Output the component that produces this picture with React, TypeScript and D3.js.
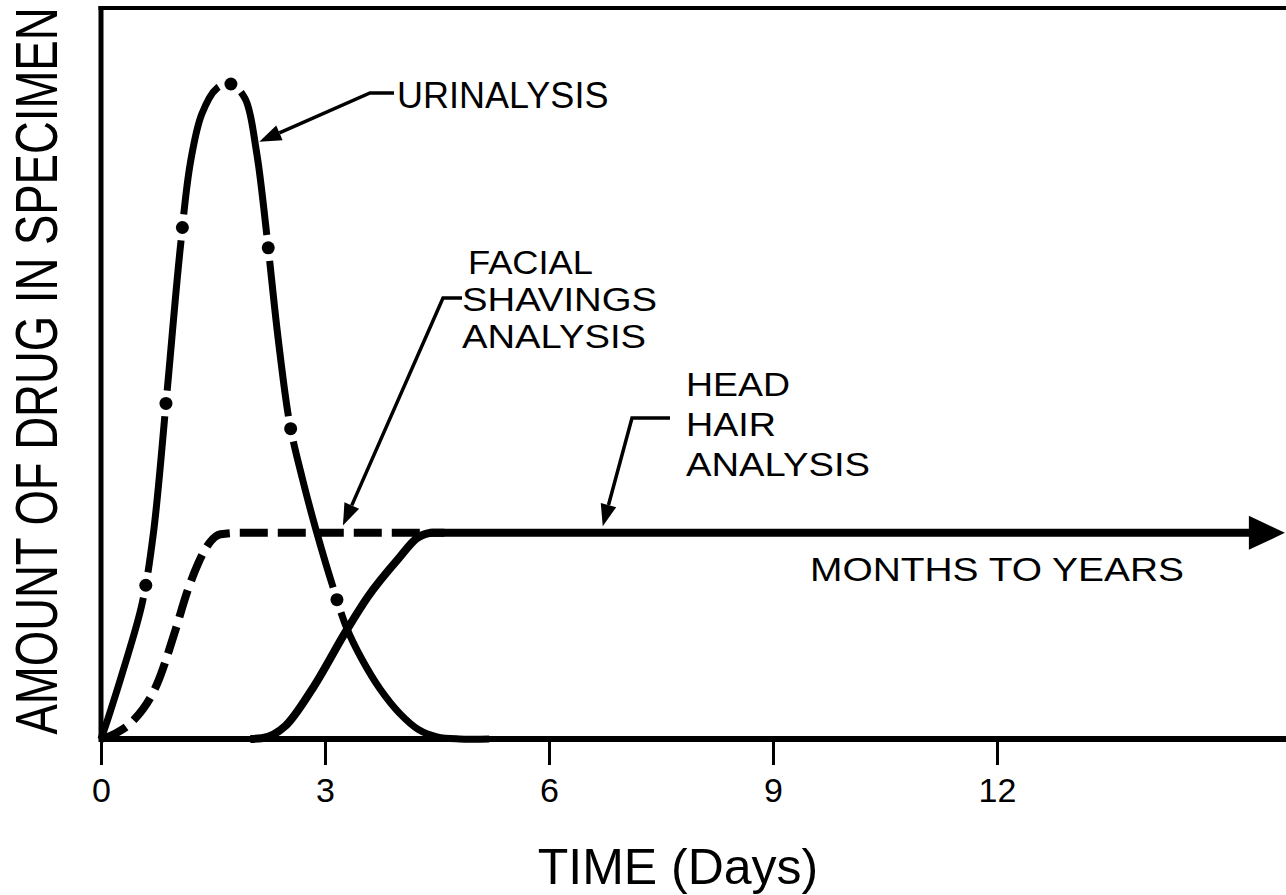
import { useEffect, useRef } from "react"
import * as d3 from "d3"

const xTicks = [0, 3, 6, 9, 12]

// [day, relative amount]
const urinalysis: [number, number][] = [
  [0, 0], [0.1, 3], [0.3, 9.5], [0.55, 18.5], [0.7, 28], [0.88, 47], [1.06, 67],
  [1.2, 79], [1.35, 85.5], [1.55, 89], [1.74, 89.6], [1.93, 87.6], [2.08, 80.5],
  [2.22, 69], [2.37, 55], [2.53, 43], [2.7, 35.5], [2.88, 28.6], [3.11, 20.7],
  [3.29, 15.2], [3.5, 10.8], [3.74, 6.8], [4.0, 3.5], [4.25, 1.3], [4.5, 0.3],
  [4.8, 0], [5.2, 0],
]
const urinalysisDots = [0.6, 0.87, 1.09, 1.74, 2.24, 2.54, 3.16]

const facialShavings: [number, number][] = [
  [0, 0], [0.2, 0.8], [0.43, 2.5], [0.75, 7.5], [1.0, 15], [1.15, 20], [1.3, 24],
  [1.45, 26.8], [1.6, 28], [1.85, 28.2], [4.6, 28.2],
]

const headHair: [number, number][] = [
  [2.0, 0], [2.15, 0.1], [2.47, 1.8], [2.82, 6.7], [3.29, 14.9], [3.57, 19.4],
  [3.97, 24.5], [4.25, 27.6], [4.45, 28.2], [15.4, 28.2],
]

// where the annotation arrows point, [day, amount]
const urinalysisPointer: [number, number] = [2.12, 81.7]
const facialPointer: [number, number] = [3.24, 29.2]
const headPointer: [number, number] = [6.72, 29.1]

export default function App() {
  const svgRef = useRef<SVGSVGElement>(null)

  useEffect(() => {
    if (!svgRef.current) return
    const svg = d3.select(svgRef.current)
    svg.selectAll("*").remove()

    const width = 1286
    const height = 895
    const font = "'Liberation Sans', Arial, Helvetica, sans-serif"

    const x = d3.scaleLinear().domain([0, 12]).range([101, 997])
    const y = d3.scaleLinear().domain([0, 100]).range([739, 8])

    svg.append("rect").attr("width", width).attr("height", height).attr("fill", "#fff")

    // frame
    svg.append("line")
      .attr("x1", x(0)).attr("x2", x(0)).attr("y1", y(100) - 2).attr("y2", y(0))
      .attr("stroke", "#000").attr("stroke-width", 5)
    svg.append("line")
      .attr("x1", x(0) - 2.5).attr("x2", width).attr("y1", y(100)).attr("y2", y(100))
      .attr("stroke", "#000").attr("stroke-width", 4)

    // x axis
    const axis = svg.append("g")
      .attr("transform", `translate(0,${y(0)})`)
      .call(d3.axisBottom(x).tickValues(xTicks).tickSize(26).tickPadding(13).tickSizeOuter(0))
    axis.select(".domain").remove()
    axis.selectAll(".tick line").attr("stroke", "#000").attr("stroke-width", 3)
    axis.selectAll(".tick text")
      .attr("fill", "#000")
      .style("font-family", font)
      .style("font-size", "34px")
    svg.append("line")
      .attr("x1", x(0) - 2.5).attr("x2", width).attr("y1", y(0)).attr("y2", y(0))
      .attr("stroke", "#000").attr("stroke-width", 6)

    const smooth = d3.line<[number, number]>()
      .x((d) => x(d[0]))
      .y((d) => y(d[1]))
      .curve(d3.curveCatmullRom.alpha(0.5))
    const monotone = d3.line<[number, number]>()
      .x((d) => x(d[0]))
      .y((d) => y(d[1]))
      .curve(d3.curveMonotoneX)

    // facial shavings (dashed)
    svg.append("path")
      .datum(facialShavings)
      .attr("d", monotone)
      .attr("fill", "none")
      .attr("stroke", "#000")
      .attr("stroke-width", 8)
      .attr("stroke-dasharray", "28 10")

    // head hair (solid) + arrow to "months to years"
    svg.append("path")
      .datum(headHair)
      .attr("d", monotone)
      .attr("fill", "none")
      .attr("stroke", "#000")
      .attr("stroke-width", 8)
    const last = headHair[headHair.length - 1]
    const ax = x(last[0])
    const ay = y(last[1])
    svg.append("path")
      .attr("d", `M${ax - 2},${ay - 17} L${ax + 34},${ay} L${ax - 2},${ay + 17} Z`)
      .attr("fill", "#000")

    // urinalysis (dash-dot)
    const uPath = svg.append("path")
      .datum(urinalysis)
      .attr("d", smooth)
      .attr("fill", "none")
      .attr("stroke", "#000")
      .attr("stroke-width", 7)
    const node = uPath.node() as SVGPathElement
    const total = node.getTotalLength()
    const lengthAt = (px: number) => {
      let lo = 0
      let hi = total
      for (let i = 0; i < 40; i++) {
        const mid = (lo + hi) / 2
        if (node.getPointAtLength(mid).x < px) lo = mid
        else hi = mid
      }
      return lo
    }
    const gap = 13
    const lens = urinalysisDots.map((d) => lengthAt(x(d)))
    const dash: number[] = []
    let pos = 0
    lens.forEach((l) => {
      dash.push(Math.max(0, l - gap - pos), gap * 2)
      pos = l + gap
    })
    dash.push(total, 0)
    uPath.attr("stroke-dasharray", dash.join(" "))
    svg.selectAll("circle.dot")
      .data(lens)
      .join("circle")
      .attr("class", "dot")
      .attr("cx", (l) => node.getPointAtLength(l).x)
      .attr("cy", (l) => node.getPointAtLength(l).y)
      .attr("r", 6.5)
      .attr("fill", "#000")

    // annotation pointers
    const pointer = (pts: [number, number][], tip: [number, number]) => {
      const tx = x(tip[0])
      const ty = y(tip[1])
      const prev = pts[pts.length - 1]
      const ang = Math.atan2(ty - prev[1], tx - prev[0])
      const len = 22
      const hw = 8
      const bx = tx - len * Math.cos(ang)
      const by = ty - len * Math.sin(ang)
      svg.append("path")
        .attr("d", d3.line()([...pts, [bx, by]]))
        .attr("fill", "none")
        .attr("stroke", "#000")
        .attr("stroke-width", 3.5)
      svg.append("path")
        .attr("d", `M${tx},${ty} L${bx + hw * Math.sin(ang)},${by - hw * Math.cos(ang)} L${bx - hw * Math.sin(ang)},${by + hw * Math.cos(ang)} Z`)
        .attr("fill", "#000")
    }
    pointer([[394, 93], [370, 93]], urinalysisPointer)
    pointer([[462, 298], [443, 298]], facialPointer)
    pointer([[670, 418], [632, 418]], headPointer)

    const label = (txt: string, tx: number, ty: number, size: number, len?: number) => {
      const t = svg.append("text")
        .attr("x", tx)
        .attr("y", ty)
        .attr("fill", "#000")
        .style("font-family", font)
        .style("font-size", `${size}px`)
        .text(txt)
      if (len) t.attr("textLength", len).attr("lengthAdjust", "spacingAndGlyphs")
      return t
    }
    label("URINALYSIS", 397, 108, 36)
    label("FACIAL", 468, 274, 33, 125)
    label("SHAVINGS", 462, 311, 33, 195)
    label("ANALYSIS", 462, 348, 33, 184)
    label("HEAD", 686, 396, 33, 104)
    label("HAIR", 686, 436, 33, 90)
    label("ANALYSIS", 686, 476, 33, 184)
    label("MONTHS TO YEARS", 810, 581, 34, 374)

    // axis titles
    svg.append("text")
      .attr("x", 678)
      .attr("y", 884)
      .attr("text-anchor", "middle")
      .attr("fill", "#000")
      .style("font-family", font)
      .style("font-size", "50px")
      .text("TIME (Days)")

    svg.append("text")
      .attr("transform", `translate(57,371) rotate(-90) scale(1,1.3)`)
      .attr("text-anchor", "middle")
      .attr("fill", "#000")
      .style("font-family", font)
      .style("font-size", "45.5px")
      .text("AMOUNT OF DRUG IN SPECIMEN")
  }, [])

  return (
    <svg
      ref={svgRef}
      width={1286}
      height={895}
      style={{ position: "absolute", left: 0, top: 0, display: "block" }}
    />
  )
}
